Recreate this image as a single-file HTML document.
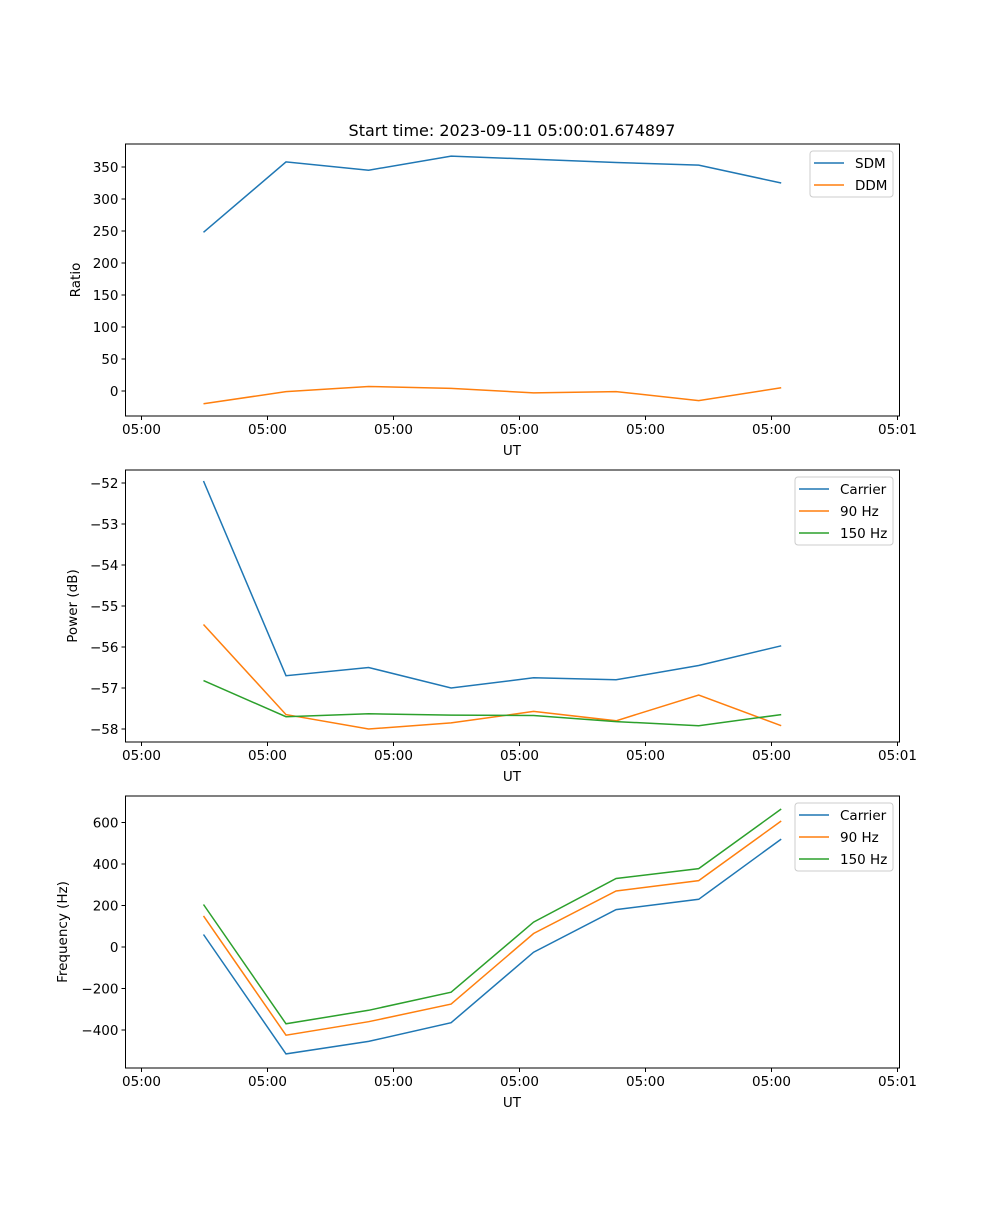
<!DOCTYPE html>
<html><head><meta charset="utf-8"><style>
body{margin:0;background:#fff}
svg text{font-family:"DejaVu Sans","Liberation Sans",sans-serif;font-size:13.5px;fill:#000}
</style></head><body>
<svg id="fig" width="1000" height="1200" xmlns="http://www.w3.org/2000/svg">
<text x="512" y="136" text-anchor="middle" style="font-size:16px">Start time: 2023-09-11 05:00:01.674897</text>
</svg>
<script>
const times=[4.92,11.47,18.02,24.57,31.12,37.67,44.22,50.77];
const xTicks=[0,10,20,30,40,50,60];
const xTickLabels=["05:00","05:00","05:00","05:00","05:00","05:00","05:01"];
const sdm=[248,358,345,367,362,357,353,325];
const ddm=[-20,-1,7,4,-3,-1,-15,5];
const ratioTicks=[0,50,100,150,200,250,300,350];
const pCarrier=[-51.95,-56.7,-56.5,-57.0,-56.75,-56.8,-56.45,-55.97];
const p90=[-55.45,-57.65,-58.0,-57.85,-57.57,-57.8,-57.17,-57.92];
const p150=[-56.82,-57.7,-57.63,-57.66,-57.67,-57.82,-57.92,-57.65];
const powerTicks=[-58,-57,-56,-55,-54,-53,-52];
const fCarrier=[60,-515,-455,-365,-25,180,230,520];
const f90=[150,-425,-360,-275,65,270,320,607];
const f150=[205,-370,-305,-218,120,330,378,665];
const freqTicks=[-400,-200,0,200,400,600];

const NS="http://www.w3.org/2000/svg";
const svg=document.getElementById('fig');
function mk(tag,attrs,parent){const e=document.createElementNS(NS,tag);for(const k in attrs)e.setAttribute(k,attrs[k]);(parent||svg).appendChild(e);return e;}
const L=125.5,R=899.5;
function xs(t){return 141.5+t*12.6;}
function panel(name,top,bottom,yfn,yticks,ylabel,series,legend,fmt){
  const g=mk('g',{});
  
  
  series.forEach(s=>{
    const p=mk('polyline',{points:s.v.map((v,i)=>xs(times[i]).toFixed(1)+','+yfn(v).toFixed(1)).join(' '),fill:'none',stroke:s.c,'stroke-width':1.5},g);
    
    
  });
  const fr=mk('rect',{x:L,y:top,width:R-L,height:bottom-top,fill:'none',stroke:'#000','stroke-width':1},g);
  
  
  xTicks.forEach((t,i)=>{
    const x=xs(t);
    mk('line',{x1:x,x2:x,y1:bottom,y2:bottom+4,stroke:'#000'},g);
    const tx=mk('text',{x:x,y:bottom+18,'text-anchor':'middle'},g);tx.textContent=xTickLabels[i];
    
    
  });
  yticks.forEach(v=>{
    const y=yfn(v);
    mk('line',{x1:L-4,x2:L,y1:y,y2:y,stroke:'#000'},g);
    const tx=mk('text',{x:L-7,y:y+5,'text-anchor':'end'},g);tx.textContent=fmt(v);
    
    
  });
  const xl=mk('text',{x:512,y:bottom+39,'text-anchor':'middle'},g);xl.textContent='UT';
  
  
  const yl=mk('text',{x:0,y:0,'text-anchor':'middle',transform:`translate(${legend.ylx},${(top+bottom)/2}) rotate(-90)`},g);yl.textContent=ylabel;
  
  
  const lg=mk('g',{},g);
  
  
  mk('rect',{x:legend.x,y:top+7,width:legend.w,height:series.length*22+2,rx:3,fill:'#fff',stroke:'#ccc'},lg);
  series.forEach((s,i)=>{
    const y=top+19+i*22;
    mk('line',{x1:legend.x+4,x2:legend.x+34,y1:y,y2:y,stroke:s.c,'stroke-width':1.5},lg);
    const t=mk('text',{x:legend.x+45,y:y+5},lg);t.textContent=s.n;
    
    
  });
}
const neg=v=>String(v).replace('-','\u2212');
panel('ratio-panel',144,416,v=>391-0.64*v,ratioTicks,'Ratio',
  [{n:'SDM',v:sdm,c:'#1f77b4'},{n:'DDM',v:ddm,c:'#ff7f0e'}],{x:810,w:83,ylx:80},neg);
panel('power-panel',470,742,v=>483-41*(v+52),powerTicks,'Power (dB)',
  [{n:'Carrier',v:pCarrier,c:'#1f77b4'},{n:'90 Hz',v:p90,c:'#ff7f0e'},{n:'150 Hz',v:p150,c:'#2ca02c'}],{x:795,w:98,ylx:77},neg);
panel('frequency-panel',796,1068,v=>947-0.2075*v,freqTicks,'Frequency (Hz)',
  [{n:'Carrier',v:fCarrier,c:'#1f77b4'},{n:'90 Hz',v:f90,c:'#ff7f0e'},{n:'150 Hz',v:f150,c:'#2ca02c'}],{x:795,w:98,ylx:67},neg);
</script>
</body></html>
